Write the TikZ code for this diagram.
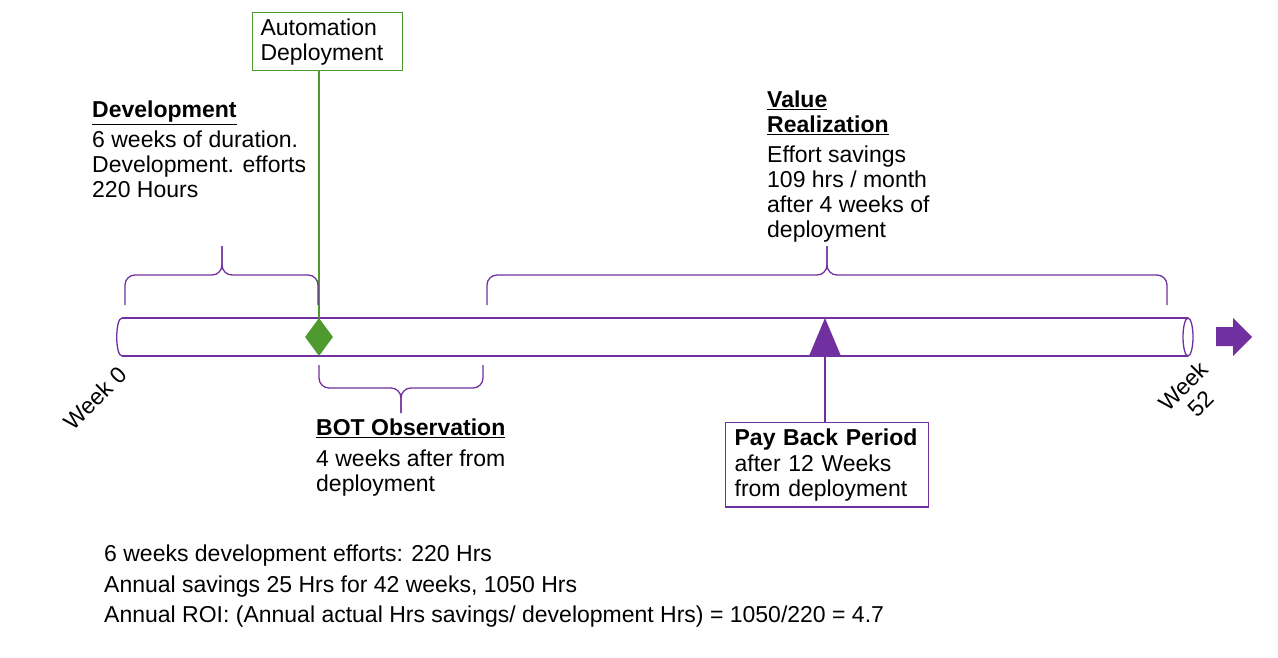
\documentclass[tikz,border=0pt]{standalone}
\usepackage{fontspec}
\setmainfont{Liberation Sans}
\usetikzlibrary{shapes.geometric}
\definecolor{timeline}{HTML}{7030A0}
\definecolor{deploy}{HTML}{4E9A2F}
\begin{document}
\begin{tikzpicture}[x=1pt,y=-1pt,
    every node/.style={font=\fontsize{23}{25}\selectfont, inner sep=0pt},
    tube/.style={draw=timeline, line width=1.3pt},
    spanline/.style={draw=timeline, line width=1.3pt, rounded corners=10pt},
    note/.style={anchor=north west, align=left},
    tagbox/.style={note, draw, line width=1.3pt, inner xsep=9pt, inner ysep=6pt}]
        \useasboundingbox (0,0) rectangle (1278,658);

        % Tubo (linea del tempo)
        \draw[tube] (122,318) -- (1188,318);
        \draw[tube] (122,356) -- (1188,356);
        \draw[tube] (122,318) .. controls (115,318) and (115,356) .. (122,356);
        \draw[tube, fill=white] (1188,337) ellipse [x radius=5, y radius=19];

        % Freccia finale
        \fill[timeline] (1216,327) -- (1233,327) -- (1233,318) -- (1252,337) -- (1233,356) -- (1233,346) -- (1216,346) -- cycle;

        % Settimane
        \node[rotate=45] (week0) at (95,398) {Week 0};
        \node[rotate=45, align=center] (week52) at (1192,395) {Week\\52};

        % Rilascio automazione
        \node[diamond, fill=deploy, minimum width=28pt, minimum height=38pt] (deploymark) at (319,337) {};
        \node[tagbox, draw=deploy, line width=1pt, text width=134pt, inner xsep=8pt] (deploy) at (252,12) {Automation\\Deployment};
        \draw[deploy, line width=1.5pt] (deploy.south -| deploymark.north) -- (deploymark.north);

        % Periodo di rientro
        \fill[timeline] (825,318) -- (841,356) -- (809,356) -- cycle;
        \coordinate (paymark) at (825,356);
        \node[tagbox, draw=timeline, text width=185pt] (payback) at (725,422) {\textbf{Pay Back Period}\\[1pt]after 12 Weeks\\from deployment};
        \draw[timeline, line width=1.5pt] (paymark) -- (paymark |- payback.north);

        % Graffe
        \draw[spanline] (125,305) |- (222,275) -- (222,246);
        \draw[spanline] (318,305) |- (222,275) -- (222,246);
        \draw[spanline] (319,365) |- (401,388) -- (401,413);
        \draw[spanline] (483,365) |- (401,388) -- (401,413);
        \draw[spanline] (487,305) |- (827,275) -- (827,246);
        \draw[spanline] (1167,305) |- (827,275) -- (827,246);

        % Testi
        \node[note] (devtext) at (92,101) {\textbf{\underline{Development}}\\[5pt]6 weeks of duration.\\Development. efforts\\220 Hours};
        \node[note] (valuetext) at (767,91) {\textbf{\underline{Value}}\\\textbf{\underline{Realization}}\\[5pt]Effort savings\\109 hrs / month\\after 4 weeks of\\deployment};
        \node[note] (bottext) at (316,419) {\textbf{\underline{BOT Observation}}\\[6pt]4 weeks after from\\deployment};
        \node[note, font=\fontsize{23}{30.5}\selectfont] (roi) at (104,545) {6 weeks development efforts: 220 Hrs\\Annual savings 25 Hrs for 42 weeks, 1050 Hrs\\Annual ROI: (Annual actual Hrs savings/ development Hrs) = 1050/220 = 4.7};
    \end{tikzpicture}
\end{document}
